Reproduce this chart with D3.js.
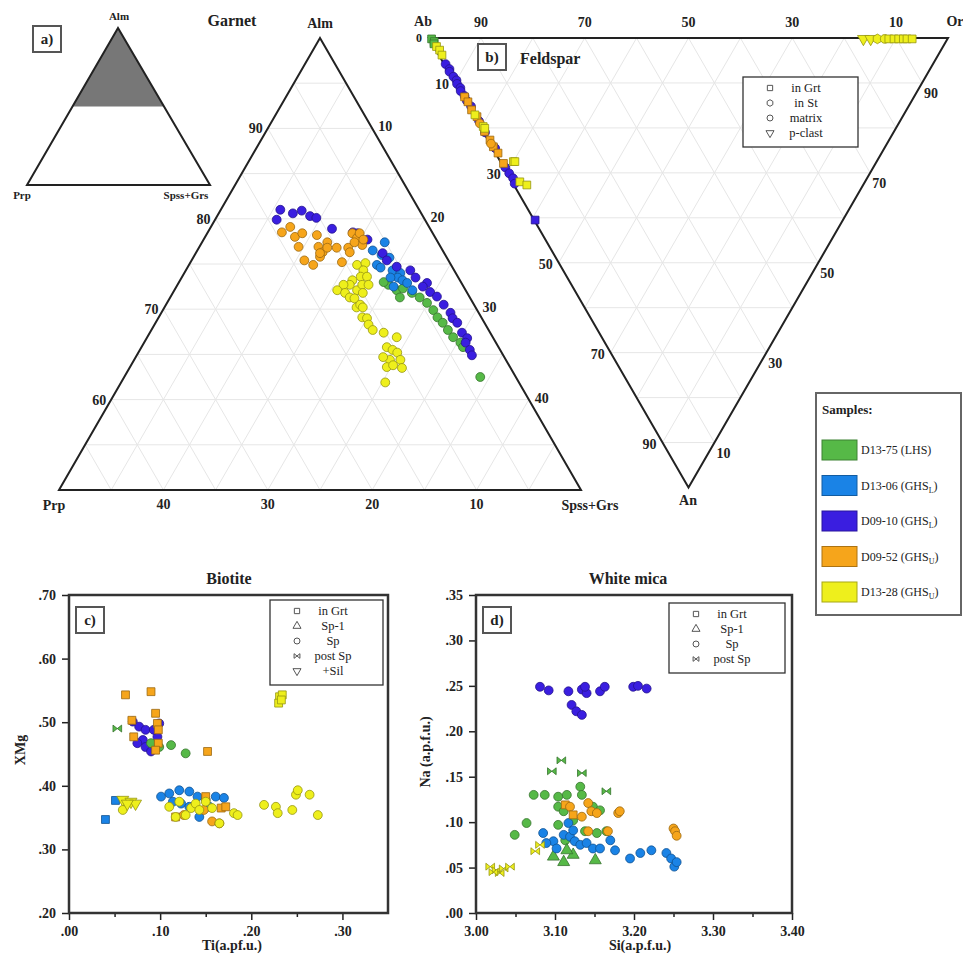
<!DOCTYPE html>
<html><head><meta charset="utf-8">
<script src="https://cdn.jsdelivr.net/npm/d3@7"></script>
<style>
body{margin:0;background:#fff}
text{font-family:"Liberation Serif","Times New Roman",serif;fill:#222}
</style></head><body>
<svg id="fig" width="963" height="961"></svg>
<script>
// samples
const samples = ['D13-75', 'D13-06', 'D09-10', 'D09-52', 'D13-28']
const sampleUnit = ['LHS', 'GHS', 'GHS', 'GHS', 'GHS']
const sampleSub = ['', 'L', 'L', 'U', 'U']
const sampleColors = ['#56b947', '#1a83e6', '#3a1ee0', '#f6a51b', '#eeef1c']

// garnet: [Alm, Spss+Grs] (Prp = rest), %
const grtGreen = [[72.7,20.2],[72.1,21.3],[72.3,21.8],[71.8,22.9],[71.3,23.9],[70.7,24.9],[69.9,25.9],[69.1,26.7],[68.5,27.5],[67.7,28.4],[66.9,29.3],[66.3,30.3],[65.8,30.8],[62.5,34.1],[71.3,22.0],[73.0,19.6]]
const grtBlue = [[77.4,17.5],[76.5,16.8],[74.9,18.0],[75.7,18.8],[74.3,19.8],[74.0,20.7],[73.5,20.7],[73.2,21.3],[73.5,20.0],[72.9,21.9],[72.1,22.8],[72.5,20.8],[76.0,17.9],[74.6,18.5]]
const grtPurple = [[81.0,5.7],[79.9,5.9],[80.6,7.1],[80.9,7.8],[80.3,8.9],[80.1,9.6],[78.9,11.7],[78.5,13.9],[78.4,14.4],[77.7,15.7],[76.2,17.9],[75.4,18.7],[74.7,20.0],[74.3,21.5],[73.5,22.4],[72.9,23.8],[72.5,23.6],[71.9,24.6],[71.4,25.5],[70.5,26.6],[69.6,27.7],[69.0,28.2],[68.5,28.9],[67.4,29.9],[66.8,30.7],[66.3,30.8],[65.5,31.6],[64.9,32.1]]
const grtOrange = [[78.5,7.1],[79.1,7.6],[78.0,8.6],[78.4,9.1],[78.2,10.6],[77.4,12.0],[76.9,9.5],[76.9,11.4],[76.3,12.1],[76.8,12.3],[75.4,10.8],[74.9,11.9],[75.8,12.1],[76.8,13.2],[75.2,14.5],[76.8,14.3],[78.4,13.9],[77.9,14.6],[78.4,14.6],[77.1,15.5],[76.3,14.7],[77.4,14.6],[77.7,15.3],[76.2,11.9]]
const grtYellow = [[74.9,16.1],[75.1,16.8],[74.3,17.0],[73.6,17.1],[73.6,17.7],[73.2,16.5],[72.7,16.5],[72.7,15.9],[72.1,15.6],[71.8,16.5],[71.3,17.2],[72.1,17.5],[72.7,17.7],[72.7,18.3],[71.8,18.2],[71.2,17.7],[70.2,18.4],[70.5,18.6],[70.2,19.0],[69.1,19.5],[69.0,20.0],[68.3,20.5],[67.7,21.2],[67.4,22.4],[66.9,23.9],[65.8,23.5],[65.5,24.2],[65.2,24.8],[64.4,25.5],[64.4,24.5],[64.7,23.7],[63.6,24.6],[63.8,25.1],[63.5,26.1],[61.9,25.3]]

// feldspar: [An, Or, texture] (Ab = rest), %
const fspGreen = [[0.2,0.4,'grt'],[0.8,0.6,'grt'],[1.3,0.3,'grt']]
const fspBlue = []
const fspPurple = [[5.8,0.3,'mx'],[6.9,0.5,'mx'],[7.5,0.2,'mx'],[8.6,0.4,'mx'],[9.4,0.6,'mx'],[10.2,0.3,'mx'],[11.1,0.5,'mx'],[11.8,0.2,'mx'],[12.9,0.4,'mx'],[14.0,0.3,'mx'],[15.2,0.5,'mx'],[18.5,0.4,'mx'],[21.0,0.3,'mx'],[24.5,0.5,'mx'],[28.8,0.3,'mx'],[30.1,0.4,'mx'],[31.2,0.6,'mx'],[32.4,0.3,'mx'],[40.5,0.2,'grt']]
const fspOrange = [[13.1,0.3,'grt'],[14.2,0.4,'grt'],[16.0,0.2,'grt'],[17.5,0.5,'grt'],[20.8,0.3,'grt'],[22.7,0.4,'grt'],[24.2,0.3,'grt'],[25.6,0.5,'grt'],[27.9,0.4,'grt'],[23.5,0.2,'mx'],[19.0,0.3,'mx']]
const fspYellow = [[1.9,0.5,'grt'],[2.7,0.7,'grt'],[3.8,0.6,'grt'],[17.1,0.3,'grt'],[19.7,0.6,'grt'],[20.1,0.7,'grt'],[27.5,2.5,'grt'],[27.5,2.8,'grt'],[32.0,1.5,'grt'],[32.7,2.5,'grt'],[0.2,83.6,'pc'],[0.2,85.0,'pc'],[0.2,86.3,'st'],[0.2,87.7,'mx'],[0.2,88.5,'grt'],[0.2,89.5,'grt'],[0.2,90.4,'grt'],[0.2,91.3,'grt'],[0.2,92.0,'grt'],[0.2,93.0,'grt']]

// biotite: [Ti, XMg, texture]
const btGreen = [[.053,.490,'post'],[.099,.461,'sp'],[.112,.464,'sp'],[.128,.451,'sp'],[.090,.467,'sp']]
const btBlue = [[.051,.377,'grt'],[.040,.347,'grt'],[.101,.383,'sp'],[.110,.388,'sp'],[.121,.393,'sp'],[.132,.391,'sp'],[.141,.383,'sp'],[.150,.378,'sp'],[.161,.383,'sp'],[.143,.351,'sp'],[.123,.372,'sp'],[.154,.367,'sp'],[.132,.367,'sp'],[.114,.375,'sp'],[.170,.381,'sp']]
const btPurple = [[.070,.501,'sp'],[.077,.493,'sp'],[.084,.488,'sp'],[.081,.472,'sp'],[.075,.467,'sp'],[.084,.461,'sp'],[.090,.454,'sp'],[.097,.477,'sp'],[.099,.498,'sp'],[.093,.488,'sp']]
const btOrange = [[.062,.543,'grt'],[.090,.548,'grt'],[.069,.503,'grt'],[.071,.477,'grt'],[.095,.514,'grt'],[.097,.498,'grt'],[.098,.488,'grt'],[.098,.467,'grt'],[.095,.456,'grt'],[.152,.454,'grt'],[.117,.351,'grt'],[.126,.354,'sp'],[.150,.383,'grt'],[.157,.344,'sp'],[.165,.341,'sp'],[.167,.365,'grt'],[.172,.367,'grt'],[.148,.362,'sp']]
const btYellow = [[.059,.378,'sil'],[.068,.375,'sil'],[.073,.372,'sil'],[.059,.362,'sp'],[.064,.372,'sil'],[.110,.367,'sp'],[.117,.351,'sp'],[.128,.354,'sp'],[.134,.365,'sp'],[.139,.372,'sp'],[.143,.362,'sp'],[.157,.365,'sp'],[.165,.341,'sp'],[.181,.357,'sp'],[.185,.354,'sp'],[.214,.370,'sp'],[.227,.367,'sp'],[.229,.357,'sp'],[.245,.362,'sp'],[.249,.386,'sp'],[.251,.393,'sp'],[.264,.386,'sp'],[.273,.354,'sp'],[.121,.375,'sp'],[.150,.375,'sp'],[.231,.540,'grt'],[.234,.543,'grt'],[.230,.530,'grt'],[.233,.535,'grt']]

// white mica: [Si, Na, texture]
const muGreen = [[3.096,.156,'post'],[3.108,.168,'post'],[3.134,.154,'post'],[3.165,.134,'post'],[3.073,.130,'sp'],[3.087,.130,'sp'],[3.049,.086,'sp'],[3.064,.099,'sp'],[3.104,.128,'sp'],[3.115,.130,'sp'],[3.104,.117,'sp'],[3.111,.112,'sp'],[3.132,.139,'sp'],[3.134,.130,'sp'],[3.148,.117,'sp'],[3.157,.113,'sp'],[3.104,.097,'sp'],[3.123,.102,'sp'],[3.138,.090,'sp'],[3.153,.088,'sp'],[3.165,.090,'sp'],[3.113,.080,'sp'],[3.098,.062,'sp1'],[3.111,.056,'sp1'],[3.123,.064,'sp1'],[3.151,.058,'sp1'],[3.115,.069,'sp1']]
const muBlue = [[3.085,.088,'sp'],[3.098,.079,'sp'],[3.102,.071,'sp'],[3.111,.086,'sp'],[3.119,.084,'sp'],[3.125,.079,'sp'],[3.132,.075,'sp'],[3.140,.077,'sp'],[3.148,.071,'sp'],[3.157,.071,'sp'],[3.170,.080,'sp'],[3.176,.069,'sp'],[3.195,.060,'sp'],[3.208,.066,'sp'],[3.222,.069,'sp'],[3.241,.066,'sp'],[3.247,.060,'sp'],[3.251,.051,'sp'],[3.254,.056,'sp'],[3.089,.077,'sp'],[3.117,.099,'sp'],[3.123,.091,'sp']]
const muOrange = [[3.113,.119,'grt'],[3.119,.117,'sp'],[3.123,.108,'grt'],[3.134,.106,'sp'],[3.142,.121,'sp'],[3.146,.112,'sp'],[3.153,.110,'sp'],[3.142,.090,'sp'],[3.167,.090,'sp'],[3.180,.110,'sp'],[3.182,.112,'sp'],[3.250,.093,'sp'],[3.252,.090,'sp'],[3.254,.085,'sp']]
const muPurple = [[3.081,.249,'sp'],[3.092,.245,'sp'],[3.117,.244,'sp'],[3.134,.246,'sp'],[3.140,.242,'sp'],[3.138,.249,'sp'],[3.157,.244,'sp'],[3.163,.249,'sp'],[3.199,.249,'sp'],[3.205,.250,'sp'],[3.216,.247,'sp'],[3.121,.229,'sp'],[3.127,.222,'sp'],[3.134,.218,'sp']]
const muYellow = [[3.018,.051,'post'],[3.026,.047,'post'],[3.035,.049,'post'],[3.043,.051,'post'],[3.030,.044,'post'],[3.022,.045,'post'],[3.075,.068,'post'],[3.081,.075,'post']]

const grtTicks = [60, 70, 80, 90]
const grtBaseTicks = [40, 30, 20, 10]
const fspTicks = [10, 30, 50, 70, 90]
const btXTicks = [0, .1, .2, .3], btYTicks = [.2, .3, .4, .5, .6, .7]
const muXTicks = [3.0, 3.1, 3.2, 3.3, 3.4], muYTicks = [0, .05, .1, .15, .2, .25, .3, .35]

const svg = d3.select('#fig')
const serif = '"Liberation Serif","Times New Roman",serif'

// custom symbols
const bowtie = { draw(c, s) { const r = Math.sqrt(s) / 2 * 1.1, h = r * 0.8
  c.moveTo(-r, -h); c.lineTo(r, h); c.lineTo(r, -h); c.lineTo(-r, h); c.closePath() } }
const triDown = { draw(c, s) { const a = Math.sqrt(4 * s / Math.sqrt(3))
  c.moveTo(0, a * 0.577); c.lineTo(-a / 2, -a * 0.289); c.lineTo(a / 2, -a * 0.289); c.closePath() } }
const hexagon = { draw(c, s) { const r = Math.sqrt(2 * s / (3 * Math.sqrt(3)))
  for (let i = 0; i < 6; i++) { const t = Math.PI / 6 + i * Math.PI / 3
    i ? c.lineTo(r * Math.cos(t), r * Math.sin(t)) : c.moveTo(r * Math.cos(t), r * Math.sin(t)) }
  c.closePath() } }
const shapes = { grt: d3.symbolSquare, sp1: d3.symbolTriangle, sp: d3.symbolCircle, mx: d3.symbolCircle,
  post: bowtie, sil: triDown, st: hexagon, pc: triDown }

function marks(g, data, color, px, py, shapeOf, size) {
  g.selectAll(null).data(data).enter().append('path')
    .attr('d', d => d3.symbol().type(shapes[shapeOf(d)]).size(size)())
    .attr('transform', d => `translate(${px(d)},${py(d)})`)
    .attr('fill', color)
    .attr('stroke', d3.color(color).darker(1.3))
    .attr('stroke-width', 0.8)
}

function label(g, x, y, txt, size, anchor, bold) {
  return g.append('text').attr('x', x).attr('y', y).text(txt)
    .attr('font-size', size).attr('text-anchor', anchor || 'middle')
    .attr('font-weight', bold === false ? 'normal' : 'bold')
}

function tagBox(g, x, y, txt) {
  g.append('rect').attr('x', x).attr('y', y).attr('width', 28).attr('height', 26)
    .attr('fill', '#fff').attr('stroke', '#555').attr('stroke-width', 2)
  label(g, x + 14, y + 18, txt, 15)
}

function texLegend(g, x, y, w, items) {
  g.append('rect').attr('x', x).attr('y', y).attr('width', w).attr('height', items.length * 15 + 10)
    .attr('fill', '#fff').attr('stroke', '#333').attr('stroke-width', 1.3)
  items.forEach(([k, t], i) => {
    const cy = y + 11 + i * 15
    g.append('path').attr('d', d3.symbol().type(shapes[k]).size(28)())
      .attr('transform', `translate(${x + 27},${cy})`).attr('fill', 'none').attr('stroke', '#555')
    label(g, x + 63, cy + 4, t, 12.5, 'middle', false)
  })
}

// ---------- a) inset ----------
const ga = svg.append('g')
const ia = { top: [118, 28], l: [27, 185], r: [210, 185] }
const mid = (p, q, f) => [p[0] + (q[0] - p[0]) * f, p[1] + (q[1] - p[1]) * f]
ga.append('path').attr('d', d3.line()([ia.top, mid(ia.top, ia.l, 0.5), mid(ia.top, ia.r, 0.5)]) + 'Z')
  .attr('fill', '#777')
ga.append('path').attr('d', d3.line()([ia.top, ia.l, ia.r]) + 'Z')
  .attr('fill', 'none').attr('stroke', '#222').attr('stroke-width', 2)
label(ga, 119, 20, 'Alm', 11)
label(ga, 22, 199, 'Prp', 11)
label(ga, 186, 199, 'Spss+Grs', 11)
tagBox(ga, 33, 26, 'a)')

// ---------- garnet ternary (Alm 50-100) ----------
const gg = svg.append('g')
const almY = d3.scaleLinear().domain([50, 100]).range([490, 38])
const diffX = d3.scaleLinear().domain([-50, 50]).range([59, 581])
const gPt = (alm, sps) => { const prp = 100 - alm - sps; return [diffX(sps - prp), almY(alm)] }
const grid = gg.append('g').attr('stroke', '#e6e6e6').attr('stroke-width', 1)
for (let v = 5; v < 50; v += 5) {
  grid.append('path').attr('d', d3.line()([gPt(100 - v, 0), gPt(100 - v, v)]))
  grid.append('path').attr('d', d3.line()([gPt(100 - v, 0), gPt(50, 50 - v)]))
  grid.append('path').attr('d', d3.line()([gPt(100 - v, v), gPt(50, v)]))
}
gg.append('path').attr('d', d3.line()([gPt(100, 0), gPt(50, 0), gPt(50, 50)]) + 'Z')
  .attr('fill', 'none').attr('stroke', '#222').attr('stroke-width', 2)
grtTicks.forEach(v => {
  const p = gPt(v, 0); label(gg, p[0] - 5, p[1] + 5, v, 14, 'end')
  const q = gPt(v, 100 - v); label(gg, q[0] + 6, q[1] + 3, 100 - v, 14, 'start')
})
grtBaseTicks.forEach(v => { const b = gPt(50, 50 - v); label(gg, b[0], b[1] + 19, v, 14) })
label(gg, 320, 28, 'Alm', 14)
label(gg, 54, 510, 'Prp', 14)
label(gg, 590, 510, 'Spss+Grs', 14)
label(gg, 232, 26, 'Garnet', 16)
;[grtGreen, grtBlue, grtPurple, grtOrange, grtYellow].forEach((s, i) =>
  marks(gg, s, sampleColors[i], d => gPt(d[0], d[1])[0], d => gPt(d[0], d[1])[1], () => 'sp', 62))

// ---------- feldspar ternary ----------
const gf = svg.append('g')
const fx = d3.scaleLinear().domain([0, 100]).range([429, 948])
const fy = d3.scaleLinear().domain([0, 100]).range([38, 487.5])
const fPt = (an, or) => [fx(or + an / 2), fy(an)]
const fgrid = gf.append('g').attr('stroke', '#e6e6e6').attr('stroke-width', 1)
for (let v = 10; v < 100; v += 10) {
  fgrid.append('path').attr('d', d3.line()([fPt(v, 0), fPt(v, 100 - v)]))
  fgrid.append('path').attr('d', d3.line()([fPt(0, v), fPt(100 - v, v)]))
  fgrid.append('path').attr('d', d3.line()([fPt(0, 100 - v), fPt(100 - v, 0)]))
}
gf.append('path').attr('d', d3.line()([fPt(0, 0), fPt(0, 100), fPt(100, 0)]) + 'Z')
  .attr('fill', 'none').attr('stroke', '#222').attr('stroke-width', 2)
fspTicks.forEach(v => {
  const t = fPt(0, 100 - v); label(gf, t[0], 27, v, 14)
  const l = fPt(v, 0); label(gf, l[0] - 6, l[1] + 6, v, 14, 'end')
  const r = fPt(100 - v, v); label(gf, r[0] + 2, r[1] + 15, v, 14, 'start')
})
label(gf, 422, 42, '0', 12, 'end')
label(gf, 423, 26, 'Ab', 14)
label(gf, 955, 26, 'Or', 14)
label(gf, 688, 505, 'An', 14)
tagBox(gf, 478, 44, 'b)')
label(gf, 520, 64, 'Feldspar', 16, 'start')
texLegend(gf, 743, 77, 115, [['grt', 'in Grt'], ['st', 'in St'], ['mx', 'matrix'], ['pc', 'p-clast']])
;[fspGreen, fspBlue, fspPurple, fspOrange, fspYellow].forEach((s, i) =>
  marks(gf, s, sampleColors[i], d => fPt(d[0], d[1])[0], d => fPt(d[0], d[1])[1], d => d[2], 60))

// ---------- sample legend ----------
const gl = svg.append('g')
gl.append('rect').attr('x', 816).attr('y', 393).attr('width', 145).attr('height', 222)
  .attr('fill', '#fff').attr('stroke', '#666').attr('stroke-width', 2)
label(gl, 822, 414, 'Samples:', 13, 'start')
samples.forEach((s, i) => {
  const y = 440 + i * 35.5
  gl.append('rect').attr('x', 822).attr('y', y).attr('width', 35).attr('height', 20)
    .attr('fill', sampleColors[i]).attr('stroke', d3.color(sampleColors[i]).darker(1)).attr('stroke-width', 1)
  const t = label(gl, 861, y + 14, `${s} (${sampleUnit[i]}`, 12, 'start', false)
  if (sampleSub[i]) t.append('tspan').text(sampleSub[i]).attr('font-size', 8).attr('dy', 3)
  t.append('tspan').text(')').attr('dy', sampleSub[i] ? -3 : 0)
})

// ---------- scatter panels ----------
// series: [data, sample index], in drawing order
function scatter(cfg) {
  const g = svg.append('g')
  const x = d3.scaleLinear().domain(cfg.xd).range(cfg.xr)
  const y = d3.scaleLinear().domain(cfg.yd).range(cfg.yr)
  const ax = g.append('g').attr('transform', `translate(0,${cfg.yr[0]})`)
    .call(d3.axisBottom(x).tickValues(cfg.xt).tickFormat(cfg.xf).tickSize(7).tickSizeOuter(0))
  const mx = g.append('g').attr('transform', `translate(0,${cfg.yr[0]})`)
    .call(d3.axisBottom(x).tickValues(cfg.xt.slice(0, -1).map((v, i) => (v + cfg.xt[i + 1]) / 2)).tickFormat('').tickSize(4).tickSizeOuter(0))
  const ay = g.append('g').attr('transform', `translate(${cfg.xr[0]},0)`)
    .call(d3.axisLeft(y).tickValues(cfg.yt).tickFormat(cfg.yf).tickSize(7).tickSizeOuter(0))
  ;[ax, mx, ay].forEach(a => {
    a.select('.domain').remove()
    a.selectAll('line').attr('stroke', '#222').attr('stroke-width', 1.5)
    a.selectAll('text').attr('font-family', serif).attr('font-size', 14).attr('font-weight', 'bold').attr('fill', '#222')
  })
  ay.selectAll('text').attr('dx', -3)
  ax.selectAll('text').attr('dy', '0.9em')
  g.append('rect').attr('x', cfg.xr[0]).attr('y', cfg.yr[1])
    .attr('width', cfg.xr[1] - cfg.xr[0]).attr('height', cfg.yr[0] - cfg.yr[1])
    .attr('fill', 'none').attr('stroke', '#333').attr('stroke-width', 2.5)
  cfg.series.forEach(([s, k]) =>
    marks(g, s, sampleColors[k], d => x(d[0]), d => y(d[1]), d => d[2], 62))
  label(g, cfg.title[0], cfg.title[1], cfg.title[2], 16)
  label(g, cfg.xl[0], cfg.xl[1], cfg.xl[2], 14)
  label(g, 0, 0, cfg.yl[2], 14).attr('transform', `translate(${cfg.yl[0]},${cfg.yl[1]}) rotate(-90)`)
  tagBox(g, cfg.xr[0] + 7, cfg.yr[1] + 12, cfg.tag)
  texLegend(g, cfg.leg[0], cfg.leg[1], cfg.leg[2], cfg.legItems)
}

const noLead = d => d3.format('.2f')(d).replace(/^0/, '')

scatter({
  xd: [0, 0.35], xr: [69, 388], yd: [0.2, 0.7], yr: [913, 595],
  xt: btXTicks, yt: btYTicks, xf: noLead, yf: noLead,
  series: [[btPurple, 2], [btGreen, 0], [btBlue, 1], [btOrange, 3], [btYellow, 4]],
  title: [229, 584, 'Biotite'], xl: [232, 950, 'Ti(a.pf.u.)'], yl: [25, 750, 'XMg'],
  tag: 'c)', leg: [270, 600, 113],
  legItems: [['grt', 'in Grt'], ['sp1', 'Sp-1'], ['sp', 'Sp'], ['post', 'post Sp'], ['sil', '+Sil']]
})

scatter({
  xd: [3.0, 3.4], xr: [476, 792], yd: [0, 0.35], yr: [913, 595],
  xt: muXTicks, yt: muYTicks, xf: d3.format('.2f'), yf: noLead,
  series: [[muGreen, 0], [muBlue, 1], [muOrange, 3], [muPurple, 2], [muYellow, 4]],
  title: [628, 584, 'White mica'], xl: [640, 950, 'Si(a.p.f.u.)'], yl: [430, 752, 'Na (a.p.f.u.)'],
  tag: 'd)', leg: [669, 603, 116],
  legItems: [['grt', 'in Grt'], ['sp1', 'Sp-1'], ['sp', 'Sp'], ['post', 'post Sp']]
})
</script></body></html>
